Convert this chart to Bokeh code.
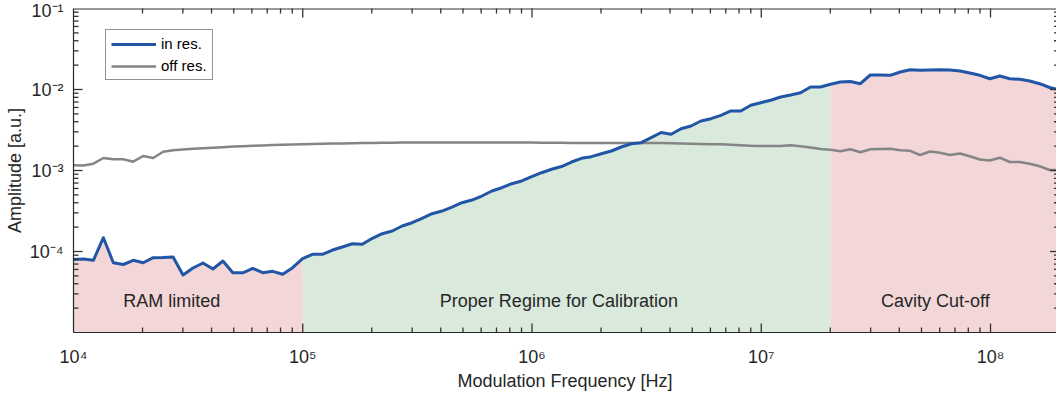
import numpy as np
from bokeh.plotting import figure
from bokeh.models import FixedTicker, Legend, LegendItem, Span
from bokeh.core.properties import value
from bokeh.embed import file_html
from bokeh.resources import INLINE

# ---------------- data ----------------
freq_hz = [
    1.000e4, 1.105e4, 1.221e4, 1.350e4, 1.492e4, 1.649e4, 1.822e4, 2.014e4, 2.226e4, 2.460e4,
    2.719e4, 3.005e4, 3.321e4, 3.671e4, 4.057e4, 4.484e4, 4.956e4, 5.477e4, 6.053e4, 6.690e4,
    7.394e4, 8.172e4, 9.032e4, 9.982e4, 1.103e5, 1.219e5, 1.348e5, 1.489e5, 1.646e5, 1.819e5,
    2.011e5, 2.222e5, 2.456e5, 2.715e5, 3.000e5, 3.316e5, 3.664e5, 4.050e5, 4.476e5, 4.947e5,
    5.468e5, 6.043e5, 6.679e5, 7.382e5, 8.158e5, 9.016e5, 9.966e5, 1.101e6, 1.217e6, 1.345e6,
    1.487e6, 1.643e6, 1.816e6, 2.007e6, 2.218e6, 2.452e6, 2.710e6, 2.995e6, 3.310e6, 3.658e6,
    4.043e6, 4.468e6, 4.938e6, 5.458e6, 6.032e6, 6.666e6, 7.368e6, 8.143e6, 9.000e6, 9.947e6,
    1.099e7, 1.215e7, 1.343e7, 1.484e7, 1.641e7, 1.813e7, 2.003e7, 2.214e7, 2.448e7, 2.705e7,
    2.990e7, 3.305e7, 3.652e7, 4.036e7, 4.460e7, 4.930e7, 5.448e7, 6.021e7, 6.655e7, 7.355e7,
    8.129e7, 8.984e7, 9.931e7, 1.097e8, 1.213e8, 1.341e8, 1.482e8, 1.638e8, 1.810e8, 2.000e8,
]

amp_in_res = [
    7.96e-5, 8.08e-5, 7.78e-5, 1.48e-4, 7.27e-5, 6.91e-5, 7.78e-5, 7.27e-5, 8.39e-5, 8.43e-5,
    8.55e-5, 5.13e-5, 6.26e-5, 7.21e-5, 6.08e-5, 7.63e-5, 5.47e-5, 5.46e-5, 6.20e-5, 5.47e-5,
    5.69e-5, 5.23e-5, 6.31e-5, 8.19e-5, 9.23e-5, 9.23e-5, 1.043e-4, 1.137e-4, 1.248e-4, 1.227e-4,
    1.455e-4, 1.659e-4, 1.791e-4, 2.064e-4, 2.267e-4, 2.570e-4, 2.93e-4, 3.16e-4, 3.54e-4, 4.00e-4,
    4.32e-4, 4.84e-4, 5.58e-4, 6.13e-4, 6.87e-4, 7.42e-4, 8.39e-4, 9.39e-4, 1.035e-3, 1.120e-3,
    1.273e-3, 1.414e-3, 1.481e-3, 1.612e-3, 1.740e-3, 1.950e-3, 2.142e-3, 2.204e-3, 2.541e-3, 2.944e-3,
    2.797e-3, 3.281e-3, 3.543e-3, 4.084e-3, 4.36e-3, 4.80e-3, 5.43e-3, 5.43e-3, 6.38e-3, 6.87e-3,
    7.36e-3, 8.08e-3, 8.55e-3, 9.13e-3, 1.074e-2, 1.074e-2, 1.159e-2, 1.238e-2, 1.256e-2, 1.179e-2,
    1.510e-2, 1.510e-2, 1.497e-2, 1.644e-2, 1.756e-2, 1.726e-2, 1.740e-2, 1.756e-2, 1.740e-2, 1.692e-2,
    1.599e-2, 1.497e-2, 1.359e-2, 1.468e-2, 1.359e-2, 1.336e-2, 1.273e-2, 1.179e-2, 1.058e-2, 9.94e-3,
]

amp_off_res = [
    1.159e-3, 1.153e-3, 1.213e-3, 1.426e-3, 1.375e-3, 1.375e-3, 1.284e-3, 1.510e-3, 1.426e-3, 1.701e-3,
    1.775e-3, 1.816e-3, 1.853e-3, 1.885e-3, 1.912e-3, 1.939e-3, 1.973e-3, 1.995e-3, 2.018e-3, 2.041e-3,
    2.059e-3, 2.076e-3, 2.094e-3, 2.112e-3, 2.124e-3, 2.136e-3, 2.148e-3, 2.160e-3, 2.173e-3, 2.185e-3,
    2.192e-3, 2.198e-3, 2.204e-3, 2.210e-3, 2.213e-3, 2.216e-3, 2.218e-3, 2.219e-3, 2.220e-3, 2.220e-3,
    2.221e-3, 2.221e-3, 2.220e-3, 2.219e-3, 2.217e-3, 2.215e-3, 2.212e-3, 2.208e-3, 2.204e-3, 2.198e-3,
    2.192e-3, 2.190e-3, 2.190e-3, 2.188e-3, 2.186e-3, 2.186e-3, 2.190e-3, 2.192e-3, 2.185e-3, 2.180e-3,
    2.167e-3, 2.154e-3, 2.142e-3, 2.124e-3, 2.112e-3, 2.106e-3, 2.076e-3, 2.047e-3, 2.018e-3, 2.006e-3,
    2.006e-3, 2.006e-3, 2.047e-3, 1.989e-3, 1.923e-3, 1.841e-3, 1.805e-3, 1.730e-3, 1.832e-3, 1.681e-3,
    1.827e-3, 1.841e-3, 1.857e-3, 1.775e-3, 1.750e-3, 1.553e-3, 1.716e-3, 1.659e-3, 1.553e-3, 1.622e-3,
    1.501e-3, 1.367e-3, 1.329e-3, 1.439e-3, 1.273e-3, 1.273e-3, 1.210e-3, 1.127e-3, 1.014e-3, 1.014e-3,
]

series_labels = ["in res.", "off res."]

ram_limit_hz = 1e5
cavity_cutoff_hz = 2e7

x_major = [1e4, 1e5, 1e6, 1e7, 1e8]
x_tick_labels = ["10\u2074", "10\u2075", "10\u2076", "10\u2077", "10\u2078"]
y_major = [1e-4, 1e-3, 1e-2, 1e-1]
y_tick_labels = ["10\u207b\u2074", "10\u207b\u00b3", "10\u207b\u00b2", "10\u207b\u00b9"]

region_labels = ["RAM limited", "Proper Regime for Calibration", "Cavity Cut-off"]
region_label_x = [2.68e4, 1.31e6, 5.75e7]
region_label_y = [2.45e-5, 2.45e-5, 2.45e-5]

x_limits = (1e4, 1.94e8)
y_limits = (1e-5, 1e-1)

# ---------------- layout / styles ----------------
W, H = 1056, 401
B_LEFT, B_RIGHT, B_TOP, B_BOTTOM = 73, 0, 8, 69
FONT = "Liberation Sans"
TXT = "#262626"
TICK = "#333333"
BLUE = "#2155A6"
GRAY = "#858585"
PINK = "#F3D6D8"
GREEN = "#D9E9DC"
MAJOR_LEN, MINOR_LEN = 9, 5
RIGHT_CROP = 2.5  # the reference's right box edge lies just outside the picture

p = figure(width=W, height=H, x_axis_type="log", y_axis_type="log",
           x_range=x_limits, y_range=y_limits,
           output_backend="svg", toolbar_location=None,
           min_border_left=B_LEFT, min_border_right=B_RIGHT,
           min_border_top=B_TOP, min_border_bottom=B_BOTTOM)
p.outline_line_color = None
p.grid.visible = False
p.background_fill_color = "white"

f = np.array(freq_hz)
a_in = np.array(amp_in_res)

m_ram = f <= ram_limit_hz * 1.01
m_cal = (f >= ram_limit_hz * 0.99) & (f <= cavity_cutoff_hz * 1.01)
m_cav = f >= cavity_cutoff_hz * 0.99

p.varea(x=f[m_ram], y1=y_limits[0], y2=a_in[m_ram], fill_color=PINK, fill_alpha=1)
p.varea(x=f[m_cal], y1=y_limits[0], y2=a_in[m_cal], fill_color=GREEN, fill_alpha=1)
p.varea(x=f[m_cav], y1=y_limits[0], y2=a_in[m_cav], fill_color=PINK, fill_alpha=1)

r_off = p.line(freq_hz, amp_off_res, line_color=GRAY, line_width=2.5, line_join="round")
r_in = p.line(freq_hz, amp_in_res, line_color=BLUE, line_width=3, line_join="round")

p.text(x=region_label_x, y=region_label_y, text=region_labels,
       text_font=value(FONT), text_font_size="18px", text_color=TXT,
       text_align="center", text_baseline="middle")

# ---------------- ticks (MATLAB-style, inward, on all four sides) ----------------
x_minor = [m * 10.0 ** e for e in range(4, 9) for m in range(2, 10)]
y_minor = [m * 10.0 ** e for e in range(-5, -1) for m in range(2, 10)]

frame_w = W - B_LEFT - B_RIGHT
frame_h = H - B_TOP - B_BOTTOM
x_dec = float(np.log10(x_limits[1] / x_limits[0]))
y_dec = float(np.log10(y_limits[1] / y_limits[0]))


def xfac(px):
    return float(10.0 ** (px * x_dec / frame_w))


def yfac(px):
    return float(10.0 ** (px * y_dec / frame_h))


def in_x(v):
    return [t for t in v if x_limits[0] < t < x_limits[1]]


def in_y(v):
    return [t for t in v if y_limits[0] < t < y_limits[1]]


x0s, y0s, x1s, y1s = [], [], [], []
for ticks, ln in ((in_x(x_major), MAJOR_LEN), (in_x(x_minor), MINOR_LEN)):
    for t in ticks:
        x0s += [t, t]; x1s += [t, t]
        y0s += [y_limits[0], y_limits[1]]
        y1s += [y_limits[0] * yfac(ln), y_limits[1] / yfac(ln)]
for ticks, ln in ((in_y(y_major), MAJOR_LEN), (in_y(y_minor), MINOR_LEN)):
    for t in ticks:
        y0s += [t, t]; y1s += [t, t]
        x0s += [x_limits[0], x_limits[1]]
        x1s += [x_limits[0] * xfac(ln), x_limits[1] / xfac(ln - RIGHT_CROP)]

p.segment(x0=x0s, y0=y0s, x1=x1s, y1=y1s, line_color=TICK, line_width=1.3, level="overlay")
p.add_layout(Span(location=y_limits[1], dimension="width", line_color=TICK, line_width=2))

xt = FixedTicker(ticks=x_major, minor_ticks=[])
yt = FixedTicker(ticks=y_major, minor_ticks=[])


def style_axis(ax, ticker):
    ax.ticker = ticker
    ax.axis_line_color = TXT
    ax.axis_line_width = 1.2
    ax.major_tick_in = 0
    ax.major_tick_out = 0
    ax.minor_tick_in = 0
    ax.minor_tick_out = 0
    ax.major_label_text_font = FONT
    ax.major_label_text_font_size = "18px"
    ax.major_label_text_color = TXT
    ax.axis_label_text_font = FONT
    ax.axis_label_text_font_size = "18px"
    ax.axis_label_text_font_style = "normal"
    ax.axis_label_text_color = TXT


xa = p.xaxis[0]
style_axis(xa, xt)
xa.major_label_overrides = dict(zip(x_major, x_tick_labels))
xa.major_label_standoff = 14
xa.axis_label = "Modulation Frequency [Hz]"
xa.axis_label_standoff = 1

ya = p.yaxis[0]
style_axis(ya, yt)
ya.major_label_overrides = dict(zip(y_major, y_tick_labels))
ya.major_label_standoff = 10
ya.axis_label = "Amplitude [a.u.]"
ya.axis_label_standoff = 2

legend = Legend(items=[LegendItem(label=series_labels[0], renderers=[r_in]),
                       LegendItem(label=series_labels[1], renderers=[r_off])],
                location=(32, 252), orientation="vertical",
                border_line_color=TXT, border_line_width=1,
                background_fill_color="white", background_fill_alpha=1,
                label_text_font=FONT, label_text_font_size="15px", label_text_color="black",
                glyph_width=45, glyph_height=16, label_height=16, label_standoff=5,
                spacing=5, padding=5, margin=0)
p.add_layout(legend)

open("out.html", "w").write(file_html(p, INLINE))
